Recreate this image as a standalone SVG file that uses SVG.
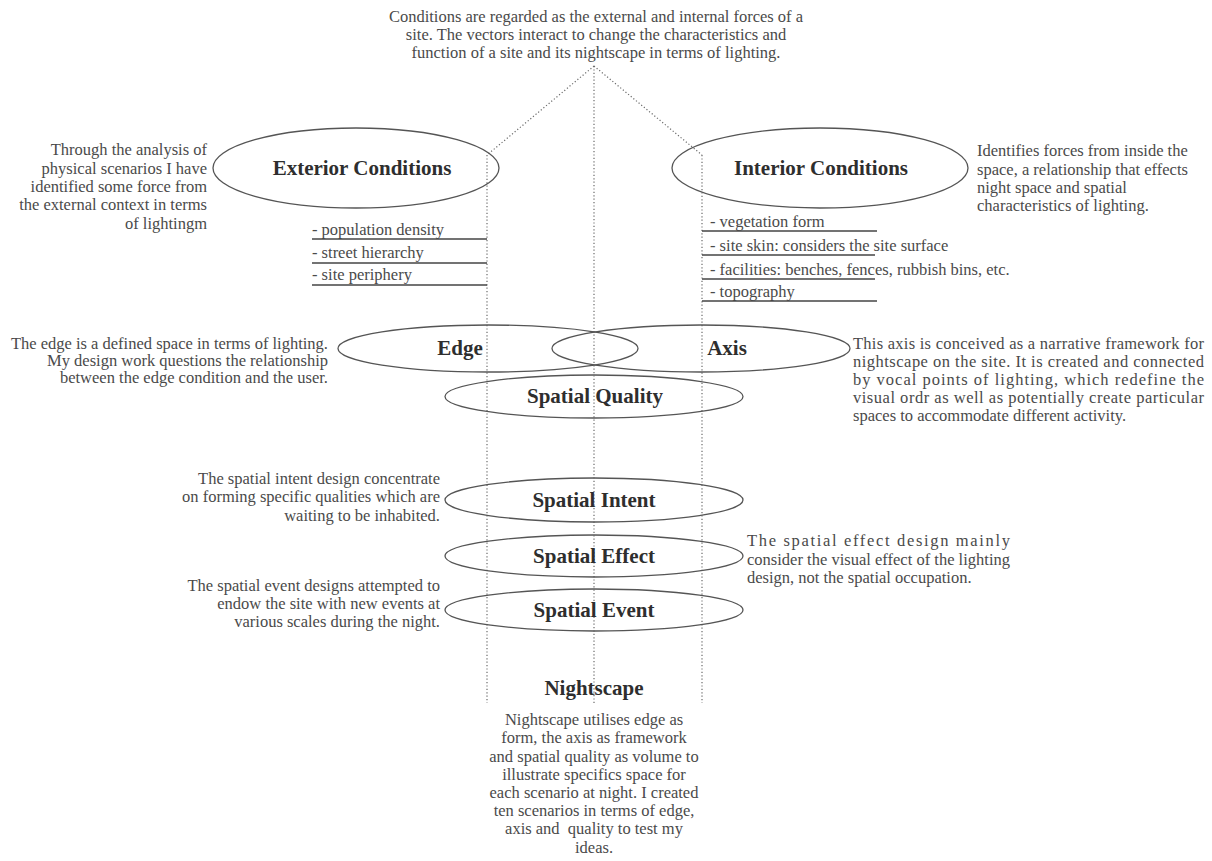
<svg xmlns="http://www.w3.org/2000/svg" width="1212" height="861" viewBox="0 0 1212 861">
<style>
.t{font-family:"Liberation Serif","Times New Roman",serif;font-size:16.5px;fill:#4a4a4a}
.b{font-family:"Liberation Serif","Times New Roman",serif;font-size:21px;font-weight:bold;fill:#2e2e2e;text-anchor:middle}
.e{fill:none;stroke:#555;stroke-width:1.3}
.d{fill:none;stroke:#6a6a6a;stroke-width:1.2;stroke-dasharray:1.2 2.2}
.u{stroke:#444;stroke-width:1.3}
.r{text-anchor:end}
.c{text-anchor:middle}
</style>
<rect width="1212" height="861" fill="#fff"/>
<g id="connectors">
<line class="d" x1="594" y1="66" x2="487" y2="155"/>
<line class="d" x1="594" y1="66" x2="702" y2="155"/>
<line class="d" x1="594" y1="66" x2="594" y2="703"/>
<line class="d" x1="487" y1="155" x2="487" y2="703"/>
<line class="d" x1="702" y1="155" x2="702" y2="703"/>
</g>
<g id="intro">
<text class="t c" x="596" y="22">Conditions are regarded as the external and internal forces of a</text>
<text class="t c" x="596" y="40">site. The vectors interact to change the characteristics and</text>
<text class="t c" x="596" y="58">function of a site and its nightscape in terms of lighting.</text>
</g>
<g id="exterior-conditions">
<ellipse class="e" cx="356" cy="168" rx="143" ry="40"/>
<text class="b" x="362" y="175">Exterior Conditions</text>
<text class="t r" x="207" y="155">Through the analysis of</text>
<text class="t r" x="207" y="174">physical scenarios I have</text>
<text class="t r" x="207" y="192">identified some force from</text>
<text class="t r" x="207" y="210">the external context in terms</text>
<text class="t r" x="207" y="229">of lightingm</text>
</g>
<g id="exterior-list">
<text class="t" x="312" y="235">- population density</text>
<line class="u" x1="312" y1="239" x2="487" y2="239"/>
<text class="t" x="312" y="258">- street hierarchy</text>
<line class="u" x1="312" y1="263" x2="487" y2="263"/>
<text class="t" x="312" y="280">- site periphery</text>
<line class="u" x1="312" y1="285" x2="487" y2="285"/>
</g>
<g id="interior-conditions">
<ellipse class="e" cx="820" cy="168" rx="148" ry="40"/>
<text class="b" x="821" y="175">Interior Conditions</text>
<text class="t" x="977" y="156">Identifies forces from inside the</text>
<text class="t" x="977" y="175">space, a relationship that effects</text>
<text class="t" x="977" y="193">night space and spatial</text>
<text class="t" x="977" y="211">characteristics of lighting.</text>
</g>
<g id="interior-list">
<text class="t" x="710" y="227"> - vegetation form</text>
<line class="u" x1="702" y1="231" x2="877" y2="231"/>
<text class="t" x="710" y="251"> - site skin: considers the site surface</text>
<line class="u" x1="702" y1="255" x2="875" y2="255"/>
<text class="t" x="710" y="275"> - facilities: benches, fences, rubbish bins, etc.</text>
<line class="u" x1="702" y1="279" x2="875" y2="279"/>
<text class="t" x="710" y="297"> - topography</text>
<line class="u" x1="702" y1="301" x2="877" y2="301"/>
</g>
<g id="edge">
<ellipse class="e" cx="488" cy="348.5" rx="150" ry="23.5"/>
<text class="b" x="460" y="355">Edge</text>
<text class="t r" x="328" y="349">The edge is a defined space in terms of lighting.</text>
<text class="t r" x="328" y="366">My design work questions the relationship</text>
<text class="t r" x="328" y="383">between the edge condition and the user.</text>
</g>
<g id="axis">
<ellipse class="e" cx="701" cy="348.5" rx="149" ry="23.5"/>
<text class="b" x="727" y="355">Axis</text>
<text class="t" x="853" y="349" textLength="351" lengthAdjust="spacing">This axis is conceived as a narrative framework for</text>
<text class="t" x="853" y="367" textLength="351" lengthAdjust="spacing">nightscape on the site. It is created and connected</text>
<text class="t" x="853" y="385" textLength="351" lengthAdjust="spacing">by vocal points of lighting, which redefine the</text>
<text class="t" x="853" y="403" textLength="351" lengthAdjust="spacing">visual ordr as well as potentially create particular</text>
<text class="t" x="853" y="421">spaces to accommodate different activity.</text>
</g>
<g id="spatial-quality">
<ellipse class="e" cx="594" cy="396.5" rx="149" ry="21.5"/>
<text class="b" x="595" y="403">Spatial Quality</text>
</g>
<g id="spatial-intent">
<ellipse class="e" cx="594" cy="500" rx="149" ry="22"/>
<text class="b" x="594" y="507">Spatial Intent</text>
<text class="t r" x="440" y="484">The spatial intent design concentrate</text>
<text class="t r" x="440" y="502">on forming specific qualities which are</text>
<text class="t r" x="440" y="521">waiting to be inhabited.</text>
</g>
<g id="spatial-effect">
<ellipse class="e" cx="594" cy="556" rx="149" ry="21"/>
<text class="b" x="594" y="563">Spatial Effect</text>
<text class="t" x="747" y="546" textLength="263" lengthAdjust="spacing">The spatial effect design mainly</text>
<text class="t" x="747" y="565" textLength="263" lengthAdjust="spacing">consider the visual effect of the lighting</text>
<text class="t" x="747" y="583">design, not the spatial occupation.</text>
</g>
<g id="spatial-event">
<ellipse class="e" cx="594" cy="610" rx="149" ry="21"/>
<text class="b" x="594" y="617">Spatial Event</text>
<text class="t r" x="440" y="591">The spatial event designs attempted to</text>
<text class="t r" x="440" y="609">endow the site with new events at</text>
<text class="t r" x="440" y="627">various scales during the night.</text>
</g>
<g id="nightscape">
<text class="b" x="594" y="695">Nightscape</text>
<text class="t c" x="594" y="725">Nightscape utilises edge as</text>
<text class="t c" x="594" y="743">form, the axis as framework</text>
<text class="t c" x="594" y="762">and spatial quality as volume to</text>
<text class="t c" x="594" y="780">illustrate specifics space for</text>
<text class="t c" x="594" y="798">each scenario at night. I created</text>
<text class="t c" x="594" y="816">ten scenarios in terms of edge,</text>
<text class="t c" x="594" y="834">axis and&#160; quality to test my</text>
<text class="t c" x="594" y="853">ideas.</text>
</g>
</svg>
